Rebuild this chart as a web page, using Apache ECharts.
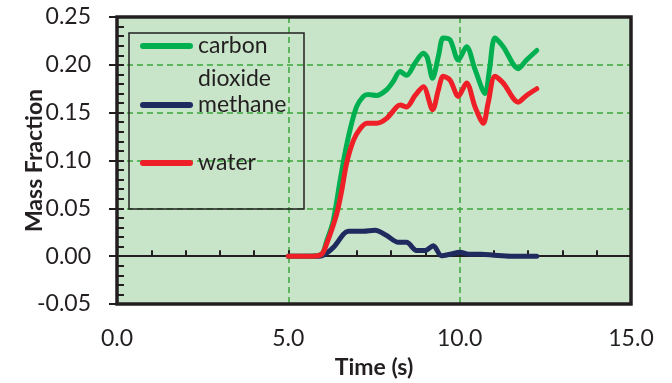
<!DOCTYPE html>
<html>
<head>
<meta charset="utf-8">
<script src="https://cdn.jsdelivr.net/npm/echarts@6/dist/echarts.min.js"></script>
<style>
    html, body {margin: 0; padding: 0; background: #fff;}
    #main {width: 672px; height: 383px;}
</style>
</head>
<body>
<div id="main"></div>
<script>
var seriesNames = ['carbon dioxide', 'methane', 'water'];
var xTicks = [0, 5, 10, 15];
var yTicks = [-0.05, 0, 0.05, 0.10, 0.15, 0.20, 0.25];

var co2Time = [5.0, 5.6, 5.97, 6.12, 6.31, 6.51, 6.65, 6.80, 6.99, 7.19, 7.33, 7.58, 7.87, 8.05, 8.26, 8.45, 8.70, 8.94, 9.05, 9.21, 9.38, 9.52, 9.72, 9.96, 10.20, 10.45, 10.74, 10.87, 11.03, 11.27, 11.71, 11.95, 12.25];
var co2Vals = [0, 0, 0.002, 0.016, 0.037, 0.079, 0.107, 0.132, 0.156, 0.167, 0.169, 0.168, 0.174, 0.182, 0.193, 0.189, 0.202, 0.212, 0.208, 0.186, 0.209, 0.228, 0.226, 0.205, 0.219, 0.195, 0.170, 0.195, 0.228, 0.219, 0.196, 0.205, 0.215];

var ch4Time = [5.0, 5.92, 6.31, 6.75, 7.19, 7.53, 7.87, 8.21, 8.45, 8.74, 8.99, 9.23, 9.47, 9.72, 10.01, 10.30, 10.64, 11.0, 11.5, 12.25];
var ch4Vals = [0, 0, 0.009, 0.026, 0.026, 0.027, 0.0215, 0.0145, 0.0145, 0.006, 0.006, 0.011, 0.0005, 0.002, 0.004, 0.002, 0.002, 0.001, 0, 0];

var h2oTime = [5.0, 5.7, 5.97, 6.12, 6.41, 6.56, 6.70, 6.90, 7.09, 7.29, 7.58, 7.87, 8.16, 8.26, 8.45, 8.70, 8.94, 9.21, 9.38, 9.52, 9.72, 9.96, 10.20, 10.45, 10.69, 10.83, 11.03, 11.27, 11.71, 11.95, 12.25];
var h2oVals = [0, 0, 0.002, 0.013, 0.044, 0.069, 0.097, 0.121, 0.133, 0.139, 0.139, 0.144, 0.156, 0.158, 0.156, 0.168, 0.177, 0.153, 0.174, 0.188, 0.184, 0.167, 0.181, 0.156, 0.139, 0.160, 0.188, 0.181, 0.161, 0.168, 0.175];

var colors = ['#00b050', '#1f2a5f', '#ee1f26'];
var FONT = 'Lato';

function pairs(xs, ys) {
    var out = [];
    for (var i = 0; i < xs.length; i++) {
        out.push([xs[i], ys[i]]);
    }
    return out;
}

var chart = echarts.init(document.getElementById('main'));
var ICON = 'path://M3,0L50,0A3,3,0,0,1,50,6L3,6A3,3,0,0,1,3,0Z';

function legendFor(name, top) {
    return {
        data: [{name: name, icon: ICON}],
        left: 140,
        top: top,
        padding: 0,
        itemWidth: 53,
        itemHeight: 6,
        itemGap: 0,
        selectedMode: false,
        itemStyle: {borderWidth: 0},
        formatter: function (n) {
            // blank first line so the icon sits next to "carbon"
            if (n === 'carbon dioxide') return '{a| }\n{a|carbon}\n{a|dioxide}';
            return '{a|' + n + '}';
        },
        textStyle: {
            fontSize: 23, lineHeight: 33, color: '#231f20', fontFamily: FONT,
            rich: {a: {fontSize: 23, lineHeight: 33, color: '#231f20', fontFamily: FONT}}
        }
    };
}

var option = {
    animation: false,
    color: colors,
    grid: {
        left: 117, right: 41, top: 17, bottom: 79,
        outerBoundsMode: 'none',
        show: true, backgroundColor: '#c9e5c9', borderWidth: 0
    },
    legend: [
        legendFor(seriesNames[0], -3.5),
        legendFor(seriesNames[1], 88.5),
        legendFor(seriesNames[2], 146.5)
    ],
    xAxis: [{
        type: 'value', min: xTicks[0], max: xTicks[xTicks.length - 1], interval: 5,
        position: 'bottom',
        axisLine: {show: false},
        axisTick: {show: false},
        axisLabel: {
            margin: 23.5, fontSize: 23, color: '#231f20', fontFamily: FONT,
            formatter: function (v) { return v.toFixed(1); }
        },
        splitLine: {show: true, lineStyle: {color: '#3aa63a', width: 1.5, type: [6, 4]}},
        name: 'Time (s)', nameLocation: 'middle', nameGap: 52.5, nameMoveOverlap: false,
        nameTextStyle: {fontSize: 23, fontWeight: 'bold', color: '#231f20', fontFamily: FONT}
    }, {
        // zero line with the small ticks on it
        type: 'value', min: xTicks[0], max: xTicks[xTicks.length - 1], interval: 1,
        position: 'bottom',
        axisLine: {show: true, onZero: true, lineStyle: {color: '#231f20', width: 2}},
        axisTick: {show: true, inside: true, length: 6, lineStyle: {color: '#231f20', width: 2}},
        axisLabel: {show: false},
        splitLine: {show: false}
    }],
    yAxis: [{
        type: 'value', min: yTicks[0], max: yTicks[yTicks.length - 1], interval: 0.05,
        axisLine: {show: false},
        axisTick: {show: true, length: 8, lineStyle: {color: '#231f20', width: 2}},
        axisLabel: {
            margin: 26, fontSize: 23, color: '#231f20', fontFamily: FONT,
            formatter: function (v) { return v.toFixed(2); }
        },
        splitLine: {show: true, lineStyle: {color: '#3aa63a', width: 1.5, type: [6, 4]}},
        name: 'Mass Fraction', nameLocation: 'middle', nameGap: 71, nameMoveOverlap: false,
        nameTextStyle: {fontSize: 23, fontWeight: 'bold', color: '#231f20', fontFamily: FONT}
    }, {
        type: 'value', min: yTicks[0], max: yTicks[yTicks.length - 1], interval: 0.01,
        position: 'left',
        axisLine: {show: false},
        axisTick: {show: true, inside: true, length: 7, lineStyle: {color: '#231f20', width: 2}},
        axisLabel: {show: false},
        splitLine: {show: false}
    }],
    graphic: [{
        type: 'rect', z: 100,
        shape: {x: 117, y: 17, width: 514, height: 287},
        style: {fill: null, stroke: '#231f20', lineWidth: 3.5}
    }, {
        type: 'rect', z: 90,
        shape: {x: 129, y: 33, width: 175, height: 176},
        style: {fill: null, stroke: '#231f20', lineWidth: 1.5}
    }],
    series: [{
        name: seriesNames[0], type: 'line', smooth: 0.3, showSymbol: false, z: 3,
        lineStyle: {width: 5, cap: 'round', join: 'round'},
        data: pairs(co2Time, co2Vals)
    }, {
        name: seriesNames[1], type: 'line', smooth: 0.3, showSymbol: false, z: 2,
        lineStyle: {width: 5, cap: 'round', join: 'round'},
        data: pairs(ch4Time, ch4Vals)
    }, {
        name: seriesNames[2], type: 'line', smooth: 0.3, showSymbol: false, z: 4,
        lineStyle: {width: 5, cap: 'round', join: 'round'},
        data: pairs(h2oTime, h2oVals)
    }]
};
chart.setOption(option);
</script>
</body>
</html>
